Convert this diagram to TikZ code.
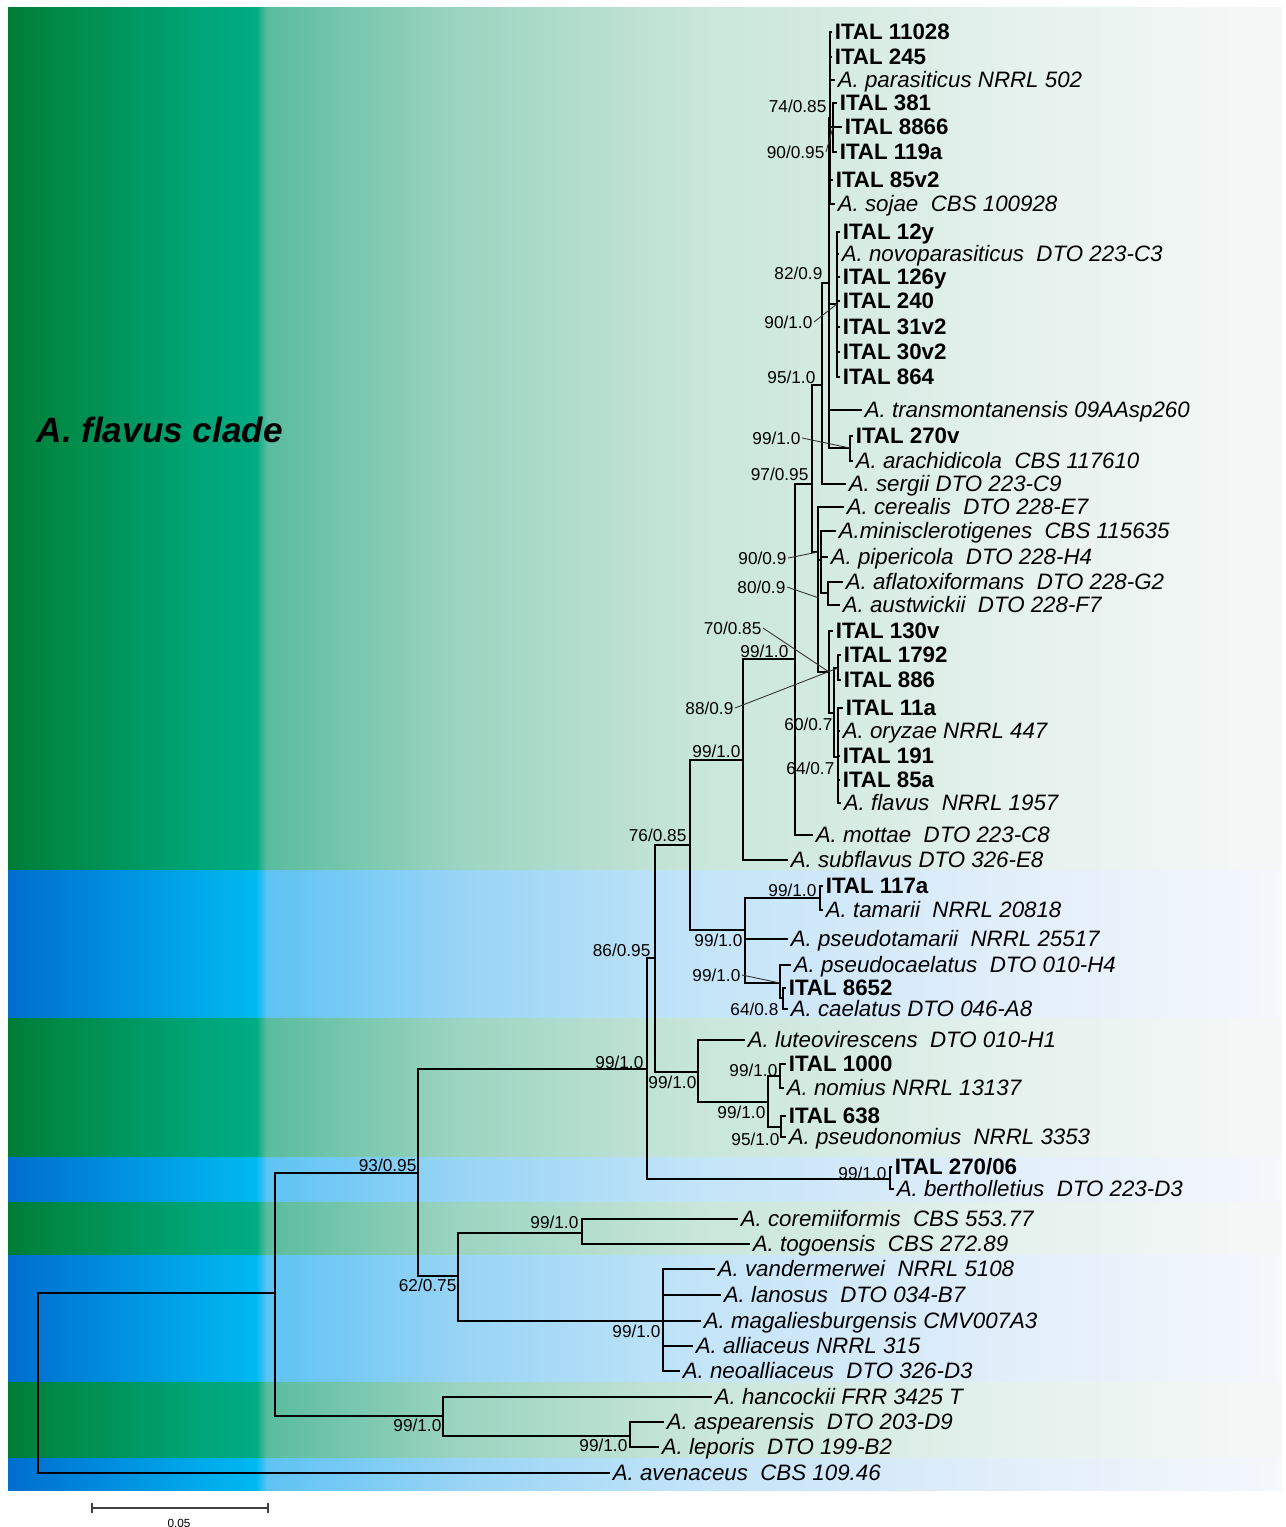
\documentclass[tikz,border=0pt]{standalone}
\usepackage{fontspec}
\setmainfont{Liberation Sans}
\usetikzlibrary{positioning, calc}

% band colours, left to right
\definecolor{gA}{RGB}{0,125,55}
\definecolor{gB}{RGB}{0,138,70}
\definecolor{gC}{RGB}{0,165,120}
\definecolor{gD}{RGB}{0,172,132}
\definecolor{gE}{RGB}{90,188,158}
\definecolor{gF}{RGB}{155,212,192}
\definecolor{gG}{RGB}{200,230,218}
\definecolor{gH}{RGB}{228,241,236}
\definecolor{gI}{RGB}{246,248,247}
\definecolor{bA}{RGB}{0,110,205}
\definecolor{bB}{RGB}{0,125,215}
\definecolor{bC}{RGB}{0,170,235}
\definecolor{bD}{RGB}{0,185,240}
\definecolor{bE}{RGB}{95,195,245}
\definecolor{bF}{RGB}{150,212,245}
\definecolor{bG}{RGB}{195,228,248}
\definecolor{bH}{RGB}{225,238,250}
\definecolor{bI}{RGB}{245,248,252}
\pgfdeclarehorizontalshading{greenband}{100bp}{color(0bp)=(gA); color(25bp)=(gA); color(27bp)=(gB); color(32.5bp)=(gC); color(34.75bp)=(gD); color(35.15bp)=(gE); color(42.5bp)=(gF); color(52bp)=(gG); color(64bp)=(gH); color(75bp)=(gI); color(100bp)=(gI)}
\pgfdeclarehorizontalshading{blueband}{100bp}{color(0bp)=(bA); color(25bp)=(bA); color(27bp)=(bB); color(32.5bp)=(bC); color(34.75bp)=(bD); color(35.15bp)=(bE); color(42.5bp)=(bF); color(52bp)=(bG); color(64bp)=(bH); color(75bp)=(bI); color(100bp)=(bI)}

\begin{document}
\begin{tikzpicture}[x=0.02cm, y=-0.02cm, line width=0.9pt,
    tipb/.style={anchor=west, inner xsep=0.4mm, inner ysep=0pt, text height=9pt, text depth=0pt, font=\fontsize{12.7}{14}\selectfont\bfseries},
    tipi/.style={anchor=west, inner xsep=0.4mm, inner ysep=0pt, text height=9pt, text depth=0pt, font=\fontsize{12.7}{14}\selectfont\itshape},
    supp/.style={anchor=east, inner sep=0.5pt, text height=7pt, text depth=0pt, font=\fontsize{9.8}{11}\selectfont},
    lead/.style={line width=0.5pt, black!80}]
        \useasboundingbox (0,0) rectangle (1285,1527);
        \fill[white] (0,0) rectangle (1285,1527);

        % Background bands
        \shade[shading=greenband] (8,8) rectangle (1282,870);
        \shade[shading=blueband] (8,870) rectangle (1282,1018);
        \shade[shading=greenband] (8,1018) rectangle (1282,1157);
        \shade[shading=blueband] (8,1157) rectangle (1282,1202);
        \shade[shading=greenband] (8,1202) rectangle (1282,1255);
        \shade[shading=blueband] (8,1255) rectangle (1282,1382);
        \shade[shading=greenband] (8,1382) rectangle (1282,1458);
        \shade[shading=blueband] (8,1458) rectangle (1282,1490);

        \node[anchor=west, font=\fontsize{20}{24}\selectfont\bfseries\itshape] (clade) at (30,430) {A. flavus clade};

        % Tips
        \node[tipb] (t01) at (832,32) {ITAL 11028};
        \node[tipb] (t02) at (832,57) {ITAL 245};
        \node[tipi] (t03) at (835,80) {A. parasiticus NRRL 502};
        \node[tipb] (t04) at (837,103) {ITAL 381};
        \node[tipb] (t05) at (842,127) {ITAL 8866};
        \node[tipb] (t06) at (837,152) {ITAL 119a};
        \node[tipb] (t07) at (833,180) {ITAL 85v2};
        \node[tipi] (t08) at (835,204) {A. sojae~~CBS 100928};
        \node[tipb] (t09) at (840,232) {ITAL 12y};
        \node[tipi] (t10) at (839,254) {A. novoparasiticus~~DTO 223-C3};
        \node[tipb] (t11) at (840,277) {ITAL 126y};
        \node[tipb] (t12) at (840,301) {ITAL 240};
        \node[tipb] (t13) at (840,327) {ITAL 31v2};
        \node[tipb] (t14) at (840,352) {ITAL 30v2};
        \node[tipb] (t15) at (840,377) {ITAL 864};
        \node[tipi] (t16) at (862,410) {A. transmontanensis 09AAsp260};
        \node[tipb] (t17) at (853,436) {ITAL 270v};
        \node[tipi] (t18) at (853,461) {A. arachidicola~~CBS 117610};
        \node[tipi] (t19) at (846,484) {A. sergii DTO 223-C9};
        \node[tipi] (t20) at (844,507) {A. cerealis~~DTO 228-E7};
        \node[tipi] (t21) at (836,531) {A.minisclerotigenes~~CBS 115635};
        \node[tipi] (t22) at (828,557) {A. pipericola~~DTO 228-H4};
        \node[tipi] (t23) at (843,582) {A. aflatoxiformans~~DTO 228-G2};
        \node[tipi] (t24) at (840,605) {A. austwickii~~DTO 228-F7};
        \node[tipb] (t25) at (833,631) {ITAL 130v};
        \node[tipb] (t26) at (841,655) {ITAL 1792};
        \node[tipb] (t27) at (841,680) {ITAL 886};
        \node[tipb] (t28) at (843,708) {ITAL 11a};
        \node[tipi] (t29) at (840,731) {A. oryzae NRRL 447};
        \node[tipb] (t30) at (840,756) {ITAL 191};
        \node[tipb] (t31) at (840,780) {ITAL 85a};
        \node[tipi] (t32) at (841,803) {A. flavus~~NRRL 1957};
        \node[tipi] (t33) at (813,835) {A. mottae~~DTO 223-C8};
        \node[tipi] (t34) at (788,860) {A. subflavus DTO 326-E8};
        \node[tipb] (t35) at (823,886) {ITAL 117a};
        \node[tipi] (t36) at (823,910) {A. tamarii~~NRRL 20818};
        \node[tipi] (t37) at (788,939) {A. pseudotamarii~~NRRL 25517};
        \node[tipi] (t38) at (791,965) {A. pseudocaelatus~~DTO 010-H4};
        \node[tipb] (t39) at (786,988) {ITAL 8652};
        \node[tipi] (t40) at (788,1009) {A. caelatus DTO 046-A8};
        \node[tipi] (t41) at (745,1040) {A. luteovirescens~~DTO 010-H1};
        \node[tipb] (t42) at (786,1064) {ITAL 1000};
        \node[tipi] (t43) at (784,1088) {A. nomius NRRL 13137};
        \node[tipb] (t44) at (786,1116) {ITAL 638};
        \node[tipi] (t45) at (786,1137) {A. pseudonomius~~NRRL 3353};
        \node[tipb] (t46) at (892,1167) {ITAL 270/06};
        \node[tipi] (t47) at (894,1189) {A. bertholletius~~DTO 223-D3};
        \node[tipi] (t48) at (738,1219) {A. coremiiformis~~CBS 553.77};
        \node[tipi] (t49) at (750,1244) {A. togoensis~~CBS 272.89};
        \node[tipi] (t50) at (715,1269) {A. vandermerwei~~NRRL 5108};
        \node[tipi] (t51) at (721,1295) {A. lanosus~~DTO 034-B7};
        \node[tipi] (t52) at (701,1321) {A. magaliesburgensis CMV007A3};
        \node[tipi] (t53) at (693,1346) {A. alliaceus NRRL 315};
        \node[tipi] (t54) at (680,1371) {A. neoalliaceus~~DTO 326-D3};
        \node[tipi] (t55) at (712,1397) {A. hancockii FRR 3425 T};
        \node[tipi] (t56) at (664,1422) {A. aspearensis~~DTO 203-D9};
        \node[tipi] (t57) at (659,1447) {A. leporis~~DTO 199-B2};
        \node[tipi] (t58) at (610,1473) {A. avenaceus~~CBS 109.46};

        % Internal nodes
        \coordinate (r) at (38,1383);
        \coordinate (na) at (275,1293);
        \coordinate (nh) at (443,1416);
        \coordinate (nh2) at (630,1436);
        \coordinate (nb) at (418,1173);
        \coordinate (ng) at (458,1276);
        \coordinate (ng1) at (582,1233);
        \coordinate (ng2) at (663,1321);
        \coordinate (nc) at (647,1069);
        \coordinate (nber) at (890,1179);
        \coordinate (nd) at (655,958);
        \coordinate (nn) at (698,1072);
        \coordinate (nn2) at (768,1102);
        \coordinate (nn3) at (780,1076);
        \coordinate (nn4) at (781,1127);
        \coordinate (ne) at (690,845);
        \coordinate (nt) at (745,930);
        \coordinate (nt1) at (820,898);
        \coordinate (nt2) at (780,983);
        \coordinate (nt3) at (783,998);
        \coordinate (nf) at (743,760);
        \coordinate (nfl) at (795,659);
        \coordinate (nk) at (812,484);
        \coordinate (nm) at (822,385);
        \coordinate (nq) at (829,283);
        \coordinate (npar) at (830,118);
        \coordinate (n381) at (833,127);
        \coordinate (n12) at (837,304);
        \coordinate (n270) at (850,448);
        \coordinate (np) at (818,552);
        \coordinate (np2) at (821,560);
        \coordinate (np3) at (828,593);
        \coordinate (no1) at (829,672);
        \coordinate (no2) at (834,713);
        \coordinate (no3) at (838,668);
        \coordinate (no4) at (838,757);

        % Branches
        \draw (r) |- (na); \draw (r) |- (t58.west);
        \draw (na) |- (nb); \draw (na) |- (nh);
        \draw (nh) |- (t55.west); \draw (nh) |- (nh2);
        \draw (nh2) |- (t56.west); \draw (nh2) |- (t57.west);
        \draw (nb) |- (nc); \draw (nb) |- (ng);
        \draw (ng) |- (ng1); \draw (ng) |- (ng2);
        \draw (ng1) |- (t48.west); \draw (ng1) |- (t49.west);
        \foreach \t in {t50,t51,t52,t53,t54} \draw (ng2) |- (\t.west);
        \draw (nc) |- (nd); \draw (nc) |- (nber);
        \draw (nber) |- (t46.west); \draw (nber) |- (t47.west);
        \draw (nd) |- (ne); \draw (nd) |- (nn);
        \draw (nn) |- (t41.west); \draw (nn) |- (nn2);
        \draw (nn2) |- (nn3); \draw (nn2) |- (nn4);
        \draw (nn3) |- (t42.west); \draw (nn3) |- (t43.west);
        \draw (nn4) |- (t44.west); \draw (nn4) |- (t45.west);
        \draw (ne) |- (nf); \draw (ne) |- (nt);
        \draw (nt) |- (nt1); \draw (nt) |- (t37.west); \draw (nt) |- (nt2);
        \draw (nt1) |- (t35.west); \draw (nt1) |- (t36.west);
        \draw (nt2) |- (t38.west); \draw (nt2) |- (nt3);
        \draw (nt3) |- (t39.west); \draw (nt3) |- (t40.west);
        \draw (nf) |- (nfl); \draw (nf) |- (t34.west);
        \draw (nfl) |- (nk); \draw (nfl) |- (t33.west);
        \draw (nk) |- (nm); \draw (nk) |- (np);
        \draw (nm) |- (nq); \draw (nm) |- (t19.west);
        \draw (nq) |- (npar); \draw (nq) |- (n12); \draw (nq) |- (t16.west); \draw (nq) |- (n270);
        \foreach \t in {t01,t02,t03,t07,t08} \draw (npar) |- (\t.west);
        \draw (npar) |- (n381);
        \foreach \t in {t04,t05,t06} \draw (n381) |- (\t.west);
        \foreach \t in {t09,t10,t11,t12,t13,t14,t15} \draw (n12) |- (\t.west);
        \draw (n270) |- (t17.west); \draw (n270) |- (t18.west);
        \draw (np) |- (t20.west); \draw (np) |- (np2); \draw (np) |- (no1);
        \draw (np2) |- (t21.west); \draw (np2) |- (t22.west); \draw (np2) |- (np3);
        \draw (np3) |- (t23.west); \draw (np3) |- (t24.west);
        \draw (no1) |- (t25.west); \draw (no1) |- (no2);
        \draw (no2) |- (no3); \draw (no2) |- (no4);
        \draw (no3) |- (t26.west); \draw (no3) |- (t27.west);
        \foreach \t in {t28,t29,t30,t31,t32} \draw (no4) |- (\t.west);

        % Support values
        \node[supp] (s01) at (828,106) {74/0.85};
        \node[supp] (s02) at (826,152) {90/0.95};
        \node[supp] (s03) at (824,273) {82/0.9};
        \node[supp] (s04) at (814,322) {90/1.0};
        \node[supp] (s05) at (817,377) {95/1.0};
        \node[supp] (s06) at (802,438) {99/1.0};
        \node[supp] (s07) at (810,474) {97/0.95};
        \node[supp] (s08) at (788,558) {90/0.9};
        \node[supp] (s09) at (787,587) {80/0.9};
        \node[supp] (s10) at (763,628) {70/0.85};
        \node[supp] (s11) at (790,651) {99/1.0};
        \node[supp] (s12) at (735,708) {88/0.9};
        \node[supp] (s13) at (834,724) {60/0.7};
        \node[supp] (s14) at (742,751) {99/1.0};
        \node[supp] (s15) at (836,768) {64/0.7};
        \node[supp] (s16) at (688,835) {76/0.85};
        \node[supp] (s17) at (818,890) {99/1.0};
        \node[supp] (s18) at (744,940) {99/1.0};
        \node[supp] (s19) at (652,950) {86/0.95};
        \node[supp] (s20) at (742,975) {99/1.0};
        \node[supp] (s21) at (780,1009) {64/0.8};
        \node[supp] (s22) at (779,1070) {99/1.0};
        \node[supp] (s23) at (645,1062) {99/1.0};
        \node[supp] (s24) at (698,1082) {99/1.0};
        \node[supp] (s25) at (767,1112) {99/1.0};
        \node[supp] (s26) at (781,1139) {95/1.0};
        \node[supp] (s27) at (888,1173) {99/1.0};
        \node[supp] (s28) at (418,1165) {93/0.95};
        \node[supp] (s29) at (580,1222) {99/1.0};
        \node[supp] (s30) at (458,1285) {62/0.75};
        \node[supp] (s31) at (662,1331) {99/1.0};
        \node[supp] (s32) at (443,1425) {99/1.0};
        \node[supp] (s33) at (629,1445) {99/1.0};

        % Leader lines
        \draw[lead] (s02.east) -- (n381);
        \draw[lead] (s04.east) -- (n12);
        \draw[lead] (s06.east) -- (n270);
        \draw[lead] (s08.east) -- (np);
        \draw[lead] (s09.east) -- ($(np2)+(-2,38)$);
        \draw[lead] (s10.east) -- (no1);
        \draw[lead] (s12.east) -- (no3);
        \draw[lead] (s20.east) -- (nt2);

        % Scale bar
        \coordinate (sb1) at (92,1508);
        \coordinate (sb2) at (268,1508);
        \draw[line width=0.7pt, black!75] (sb1) -- (sb2);
        \draw[line width=0.7pt, black!75] ($(sb1)+(0,-5)$) -- ($(sb1)+(0,5)$);
        \draw[line width=0.7pt, black!75] ($(sb2)+(0,-5)$) -- ($(sb2)+(0,5)$);
        \node[font=\fontsize{6.7}{8}\selectfont, inner sep=0pt] (sbl) at (179,1523) {0.05};
\end{tikzpicture}
\end{document}
